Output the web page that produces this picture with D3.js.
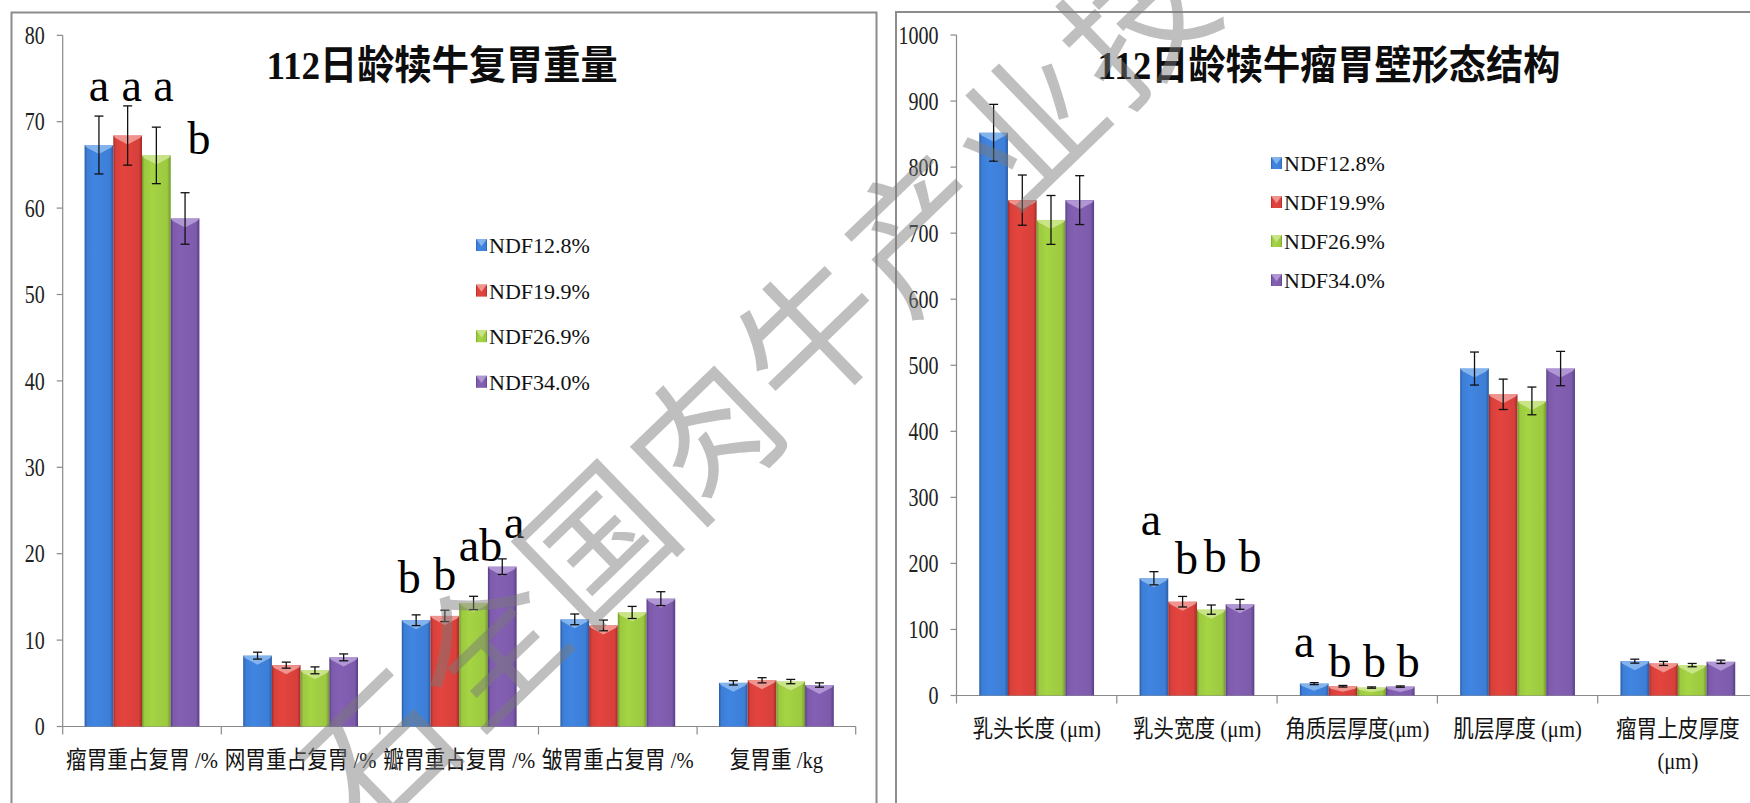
<!DOCTYPE html>
<html>
<head>
<meta charset="utf-8">
<script src="https://cdn.jsdelivr.net/npm/d3@7/dist/d3.min.js"></script>
<style>
  html, body { margin: 0; padding: 0; background: #ffffff; }
  svg { display: block; }
</style>
</head>
<body>
<svg id="fig" width="1750" height="803"></svg>
<script>
// ---------- data ----------
const seriesNames = ["NDF12.8%", "NDF19.9%", "NDF26.9%", "NDF34.0%"];

// Chart 1: compound stomach weight at 112 days
const stomachTitle = "112日龄犊牛复胃重量";
const stomachCategories = ["瘤胃重占复胃 /%", "网胃重占复胃 /%", "瓣胃重占复胃 /%", "皱胃重占复胃 /%", "复胃重 /kg"];
const stomachTicks = [0, 10, 20, 30, 40, 50, 60, 70, 80];
const stomachMean = [
  [67.3, 8.2, 12.3, 12.4, 5.05],
  [68.4, 7.1, 12.8, 11.7, 5.35],
  [66.1, 6.5, 14.3, 13.2, 5.2],
  [58.8, 8.0, 18.5, 14.8, 4.8]
];
const stomachErr = [
  [3.35, 0.4, 0.62, 0.62, 0.25],
  [3.43, 0.35, 0.66, 0.62, 0.3],
  [3.27, 0.4, 0.77, 0.7, 0.25],
  [2.98, 0.4, 0.9, 0.8, 0.25]
];
const stomachLetters = [
  { cat: 0, s: 0, text: "a" }, { cat: 0, s: 1, text: "a" }, { cat: 0, s: 2, text: "a" }, { cat: 0, s: 3, text: "b" },
  { cat: 2, s: 0, text: "b" }, { cat: 2, s: 1, text: "b" }, { cat: 2, s: 2, text: "ab" }, { cat: 2, s: 3, text: "a" }
];

// Chart 2: rumen wall morphology at 112 days
const rumenTitle = "112日龄犊牛瘤胃壁形态结构";
const rumenCategories = ["乳头长度 (μm)", "乳头宽度 (μm)", "角质层厚度(μm)", "肌层厚度 (μm)", "瘤胃上皮厚度 (μm)"];
const rumenTicks = [0, 100, 200, 300, 400, 500, 600, 700, 800, 900, 1000];
const rumenMean = [
  [852, 177.5, 18, 495, 52],
  [750, 142, 14, 456, 48.5],
  [720, 130, 12, 446, 46],
  [750, 138, 13.5, 495, 51]
];
const rumenErr = [
  [43, 10, 1.5, 25, 3],
  [38, 8, 1.2, 23, 3],
  [37, 7, 1, 21, 2.5],
  [37, 7.5, 1, 26, 2.5]
];
const rumenLetters = [
  { cat: 1, s: 0, text: "a" }, { cat: 1, s: 1, text: "b" }, { cat: 1, s: 2, text: "b" }, { cat: 1, s: 3, text: "b" },
  { cat: 2, s: 0, text: "a" }, { cat: 2, s: 1, text: "b" }, { cat: 2, s: 2, text: "b" }, { cat: 2, s: 3, text: "b" }
];

const watermarkText = "石全国肉牛产业技术";

// ---------- styles ----------
const palette = [
  { base: "#3d7ed6", dark: "#2a5ca4", light: "#8fbcf0" },
  { base: "#d8403b", dark: "#a32a27", light: "#f2a29d" },
  { base: "#9cc940", dark: "#70982a", light: "#d0e893" },
  { base: "#7d5bab", dark: "#583c84", light: "#b9a0da" }
];
const SERIF = "'Liberation Serif', 'Times New Roman', 'Noto Sans CJK SC', serif";
const MIXED = "'Liberation Serif', 'Noto Sans CJK SC', sans-serif";
const AXIS = "#8a8a8a";

const svg = d3.select("#fig");
svg.append("rect").attr("width", 1750).attr("height", 803).attr("fill", "#ffffff");

const defs = svg.append("defs");
palette.forEach((c, i) => {
  const g = defs.append("linearGradient").attr("id", "barGrad" + i)
    .attr("x1", "0%").attr("x2", "100%").attr("y1", "0%").attr("y2", "0%");
  g.append("stop").attr("offset", "0%").attr("stop-color", c.dark);
  g.append("stop").attr("offset", "9%").attr("stop-color", c.base);
  g.append("stop").attr("offset", "35%").attr("stop-color", d3.color(c.base).brighter(0.15));
  g.append("stop").attr("offset", "88%").attr("stop-color", c.base);
  g.append("stop").attr("offset", "100%").attr("stop-color", c.dark);
});

// text drawn with an optional horizontal squeeze
function sText(g, x, y, str, o) {
  return g.append("text")
    .attr("transform", `translate(${x},${y}) scale(${o.sx || 1},1)`)
    .attr("text-anchor", o.anchor || "start")
    .attr("font-family", o.family || SERIF)
    .attr("font-size", o.size)
    .attr("font-weight", o.weight || "normal")
    .attr("fill", o.fill || "#111")
    .attr("dy", o.dy || 0)
    .text(str);
}

function drawBar(g, x, y, w, h, i) {
  const c = palette[i];
  g.append("rect").attr("x", x).attr("y", y).attr("width", w).attr("height", Math.max(0, h))
    .attr("fill", `url(#barGrad${i})`);
  const bh = Math.min(9, h * 0.6);
  if (bh > 0.5) {
    g.append("path")
      .attr("d", `M${x},${y} L${x + w},${y} L${x + w - 2},${y + Math.min(2.5, bh)} L${x + w / 2},${y + bh} L${x + 2},${y + Math.min(2.5, bh)} Z`)
      .attr("fill", c.light).attr("opacity", 0.85);
  }
}

function drawChart(cfg) {
  const g = svg.append("g");
  const y = d3.scaleLinear().domain(cfg.domain).range([cfg.y0, cfg.yTop]);
  const x = d3.scaleBand().domain(d3.range(cfg.categories.length))
    .range([cfg.x0, cfg.x0 + cfg.band * cfg.categories.length]).paddingInner(0).paddingOuter(0);
  const bw = x.bandwidth();
  const barW = bw * cfg.barFrac;
  const sub = (ci, si) => x(ci) + (bw - 4 * barW) / 2 + si * barW;

  // y axis
  g.append("line").attr("x1", cfg.x0).attr("x2", cfg.x0).attr("y1", y(cfg.domain[0])).attr("y2", y(cfg.domain[1]))
    .attr("stroke", AXIS).attr("stroke-width", 1.2);
  cfg.ticks.forEach(t => {
    g.append("line").attr("x1", cfg.x0 - 6).attr("x2", cfg.x0).attr("y1", y(t)).attr("y2", y(t))
      .attr("stroke", AXIS).attr("stroke-width", 1.2);
    sText(g, cfg.x0 - 18, y(t), String(t), { size: 25, sx: 0.8, anchor: "end", dy: "0.35em", fill: "#222" });
  });

  // x axis
  const xEnd = cfg.x0 + cfg.band * cfg.categories.length;
  g.append("line").attr("x1", cfg.x0).attr("x2", xEnd).attr("y1", cfg.y0).attr("y2", cfg.y0)
    .attr("stroke", AXIS).attr("stroke-width", 1.2);
  d3.range(cfg.categories.length + 1).forEach(k => {
    const xx = cfg.x0 + k * bw;
    g.append("line").attr("x1", xx).attr("x2", xx).attr("y1", cfg.y0).attr("y2", cfg.y0 + 8)
      .attr("stroke", AXIS).attr("stroke-width", 1.2);
  });

  // bars
  cfg.mean.forEach((row, si) => {
    row.forEach((v, ci) => {
      drawBar(g, sub(ci, si), y(v), barW, y(0) - y(v), si);
    });
  });

  // error bars
  cfg.mean.forEach((row, si) => {
    row.forEach((v, ci) => {
      const e = cfg.err[si][ci];
      const cx = sub(ci, si) + barW / 2;
      const eg = g.append("g").attr("stroke", "#111").attr("stroke-width", 1.3);
      eg.append("line").attr("x1", cx).attr("x2", cx).attr("y1", y(v + e)).attr("y2", y(v - e));
      eg.append("line").attr("x1", cx - 4.5).attr("x2", cx + 4.5).attr("y1", y(v + e)).attr("y2", y(v + e));
      eg.append("line").attr("x1", cx - 4.5).attr("x2", cx + 4.5).attr("y1", y(v - e)).attr("y2", y(v - e));
    });
  });

  // significance letters
  cfg.letters.forEach((L, k) => {
    const pos = cfg.letterPos[k];
    const cx = sub(L.cat, L.s) + barW / 2 + pos.dx;
    sText(g, cx, y(pos.at), L.text, { size: 46, anchor: "middle", fill: "#000" });
  });

  // category labels
  cfg.categories.forEach((label, ci) => {
    const cx = x(ci) + bw / 2;
    const t = sText(g, cx, cfg.y0 + 41.5, label, { size: 24, sx: 0.86, anchor: "middle", family: MIXED, fill: "#141414" });
    if (t.node().getComputedTextLength() * 0.86 > bw * 0.98 && label.indexOf(" ") > 0) {
      const cut = label.lastIndexOf(" ");
      t.text(label.slice(0, cut));
      sText(g, cx, cfg.y0 + 41.5 + 32, label.slice(cut + 1), { size: 24, sx: 0.86, anchor: "middle", family: MIXED, fill: "#141414" });
    }
  });

  // title
  sText(g, cfg.titleX, 79, cfg.title, { size: 40, sx: 0.93, anchor: "middle", family: MIXED, weight: "bold", fill: "#0d0d0d" });

  // legend
  seriesNames.forEach((name, si) => {
    const by = cfg.legY + si * cfg.legStep;
    drawBar(g, cfg.legX, by - 14, 11, 12, si);
    sText(g, cfg.legX + 13, by, name, { size: 22, fill: "#111" });
  });
}

// panel frames
svg.append("rect").attr("x", 11.5).attr("y", 12.5).attr("width", 865).attr("height", 900)
  .attr("fill", "none").attr("stroke", "#8c8c8c").attr("stroke-width", 2);
svg.append("rect").attr("x", 896).attr("y", 12).attr("width", 900).attr("height", 900)
  .attr("fill", "none").attr("stroke", "#8c8c8c").attr("stroke-width", 2);

drawChart({
  title: stomachTitle, titleX: 442, categories: stomachCategories, ticks: stomachTicks,
  mean: stomachMean, err: stomachErr, letters: stomachLetters,
  domain: [0, 80], y0: 726.5, yTop: 35.3, x0: 62.7, band: 158.6, barFrac: 0.181,
  legX: 476, legY: 253, legStep: 45.6,
  letterPos: [
    { dx: 0, at: 72.4 }, { dx: 4, at: 72.4 }, { dx: 7, at: 72.4 }, { dx: 14, at: 66.3 },
    { dx: -7, at: 15.5 }, { dx: 0, at: 15.8 }, { dx: 7, at: 19.1 }, { dx: 12, at: 21.8 }
  ]
});

drawChart({
  title: rumenTitle, titleX: 1329, categories: rumenCategories, ticks: rumenTicks,
  mean: rumenMean, err: rumenErr, letters: rumenLetters,
  domain: [0, 1000], y0: 695.5, yTop: 35, x0: 956.5, band: 160.3, barFrac: 0.179,
  legX: 1271, legY: 171, legStep: 39,
  letterPos: [
    { dx: -3, at: 243 }, { dx: 4, at: 184 }, { dx: 4, at: 187 }, { dx: 10, at: 187 },
    { dx: -10, at: 58.7 }, { dx: -3, at: 28.5 }, { dx: 3, at: 28.5 }, { dx: 8, at: 28.5 }
  ]
});

// diagonal watermark, one glyph per step along the diagonal
const wm = svg.append("g").attr("fill", "#7a7a7a").attr("opacity", 0.48);
const angle = -44;
const stepLen = 150;
const anchorIndex = 7, anchorX = 1135, anchorY = 22;
Array.from(watermarkText).forEach((ch, i) => {
  const k = i - anchorIndex;
  const cx = anchorX + k * stepLen * Math.cos(angle * Math.PI / 180);
  const cy = anchorY + k * stepLen * Math.sin(angle * Math.PI / 180);
  wm.append("text")
    .attr("transform", `translate(${cx},${cy}) rotate(${angle})`)
    .attr("text-anchor", "middle").attr("dy", "0.38em")
    .attr("font-family", "'Noto Sans CJK SC', sans-serif")
    .attr("font-weight", 400)
    .attr("font-size", 145)
    .text(ch);
});
</script>
</body>
</html>
